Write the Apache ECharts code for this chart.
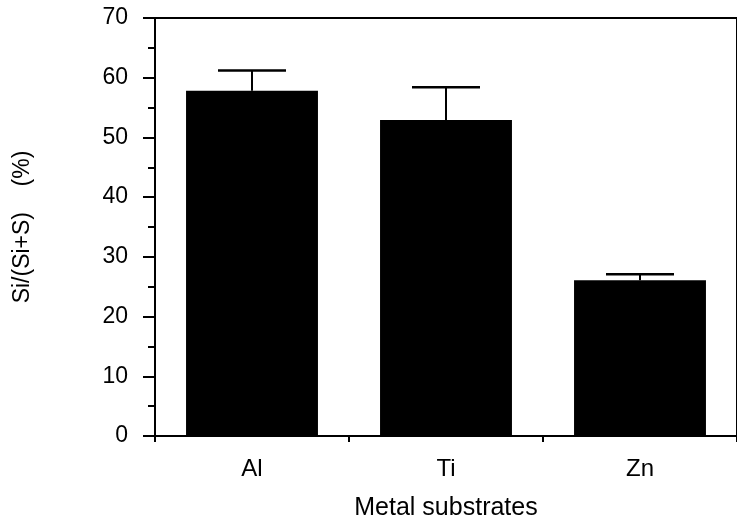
<!DOCTYPE html>
<html>
<head>
<meta charset="utf-8">
<script src="https://cdn.jsdelivr.net/npm/echarts@6/dist/echarts.min.js"></script>
<style>
  html, body { margin: 0; padding: 0; background: #fff; }
  #chart { width: 737px; height: 529px; }
</style>
</head>
<body>
<div id="chart"></div>
<script>
// Si/(Si+S) ratio measured on each metal substrate (mean and standard deviation, %)
const substrates = ['Al', 'Ti', 'Zn'];
const ratioMean = [57.8, 52.9, 26.1];
const ratioSD = [3.4, 5.5, 1.0];
const yTicks = [0, 10, 20, 30, 40, 50, 60, 70];

const FONT = '"Liberation Sans", Arial, Helvetica, sans-serif';
const INK = '#000';

const chart = echarts.init(document.getElementById('chart'), null, { renderer: 'canvas' });

const errorData = substrates.map((s, i) => [i, ratioMean[i], ratioMean[i] + ratioSD[i]]);

chart.setOption({
  animation: false,
  backgroundColor: '#fff',
  grid: {
    left: 155, top: 18, width: 590, height: 418,
    show: true, borderColor: INK, borderWidth: 2, backgroundColor: 'transparent'
  },
  xAxis: {
    type: 'category',
    data: substrates,
    name: 'Metal substrates',
    nameLocation: 'middle',
    nameGap: 60,
    nameTextStyle: { color: INK, fontFamily: FONT, fontSize: 25 },
    axisLine: { lineStyle: { color: INK, width: 2 } },
    axisTick: { show: true, length: 6, lineStyle: { color: INK, width: 2 } },
    axisLabel: { color: INK, fontFamily: FONT, fontSize: 24, margin: 21 },
    splitLine: { show: false }
  },
  yAxis: {
    type: 'value',
    min: yTicks[0],
    max: yTicks[yTicks.length - 1],
    interval: 10,
    name: 'Si/(Si+S)    (%)',
    nameLocation: 'middle',
    nameGap: 121,
    nameRotate: 90,
    nameTextStyle: { color: INK, fontFamily: FONT, fontSize: 23 },
    axisLine: { show: true, lineStyle: { color: INK, width: 2 } },
    axisTick: { show: true, length: 12, lineStyle: { color: INK, width: 2 } },
    minorTick: { show: true, splitNumber: 2, length: 7, lineStyle: { color: INK, width: 2 } },
    axisLabel: { color: INK, fontFamily: FONT, fontSize: 23, margin: 27 },
    splitLine: { show: false },
    minorSplitLine: { show: false }
  },
  series: [
    {
      type: 'bar',
      data: ratioMean,
      barWidth: '68%',
      itemStyle: { color: INK },
      z: 2
    },
    {
      type: 'custom',
      data: errorData,
      z: 3,
      renderItem: function (params, api) {
        const base = api.coord([api.value(0), api.value(1)]);
        const top = api.coord([api.value(0), api.value(2)]);
        const half = 34;
        return {
          type: 'group',
          children: [
            {
              type: 'line',
              shape: { x1: base[0], y1: base[1], x2: top[0], y2: top[1] },
              style: { stroke: INK, lineWidth: 2 }
            },
            {
              type: 'line',
              shape: { x1: top[0] - half, y1: top[1], x2: top[0] + half, y2: top[1] },
              style: { stroke: INK, lineWidth: 2.5 }
            }
          ]
        };
      }
    }
  ]
});
</script>
</body>
</html>
